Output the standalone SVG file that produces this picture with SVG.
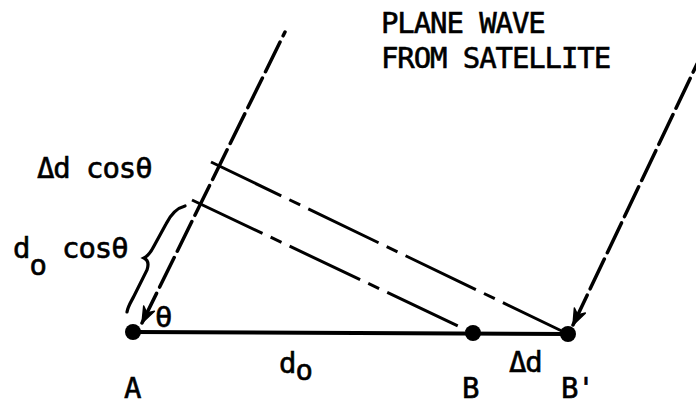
<svg xmlns="http://www.w3.org/2000/svg" width="696" height="405" viewBox="0 0 696 405">
<style>
  text { font-family: "DejaVu Sans Mono", "Liberation Mono", monospace; font-size: 29px; letter-spacing: -1.1px; fill: #000; stroke: #000; stroke-width: 0.6px; }
  .wave { fill: none; stroke: #000; stroke-width: 3.5; stroke-dasharray: 33 7; stroke-linecap: round; }
  .perp { fill: none; stroke: #000; stroke-width: 3; stroke-dasharray: 78 9 12 9; }
  .base { fill: none; stroke: #000; stroke-width: 4; }
  .dot { fill: #000; }
  .head { fill: #000; stroke: #000; stroke-width: 1.5; stroke-linejoin: round; }
</style>
<rect width="696" height="405" fill="#fff"/>
<g id="connectors">
  <path id="wave-left" class="wave" d="M142,323 L285,32"/>
  <polygon class="head" points="142,323 154.4,311.3 146.9,313.1 143.7,306"/>
  <path id="wave-right" class="wave" d="M573,325 L697,64"/>
  <polygon class="head" points="573,325 585.3,313.1 577.7,315.1 574.4,308"/>
  <path id="perp-upper" class="perp" d="M211,162 L568,334"/>
  <path id="perp-lower" class="perp" d="M192,200 L473,333"/>
  <path id="baseline" class="base" d="M133,332 L568,334"/>
  <path id="brace" fill="none" stroke="#000" stroke-width="3.2" stroke-linecap="round" d="M185,206 C177,208 171,214 166,224 L154,246 C151,252 148,256 144,258 C148,260 149,264 147,270 L134,296 C131,302 128,306 127,312"/>
</g>
<g id="node-A">
  <circle class="dot" cx="133" cy="332" r="8"/>
  <text x="124" y="398">A</text>
</g>
<g id="node-B">
  <circle class="dot" cx="473" cy="333" r="8"/>
  <text x="462" y="398">B</text>
</g>
<g id="node-Bprime">
  <circle class="dot" cx="568" cy="334" r="8"/>
  <text x="561" y="398">B'</text>
</g>
<g id="labels">
  <text x="381" y="33">PLANE WAVE</text>
  <text x="381" y="68">FROM SATELLITE</text>
  <text x="37" y="178">Δd cosθ</text>
  <text x="13" y="258">d<tspan dy="17">o</tspan><tspan dy="-17"> cosθ</tspan></text>
  <text x="155" y="327">θ</text>
  <text x="279" y="373">d<tspan dy="7">o</tspan></text>
  <text x="509" y="372">Δd</text>
</g>
</svg>
